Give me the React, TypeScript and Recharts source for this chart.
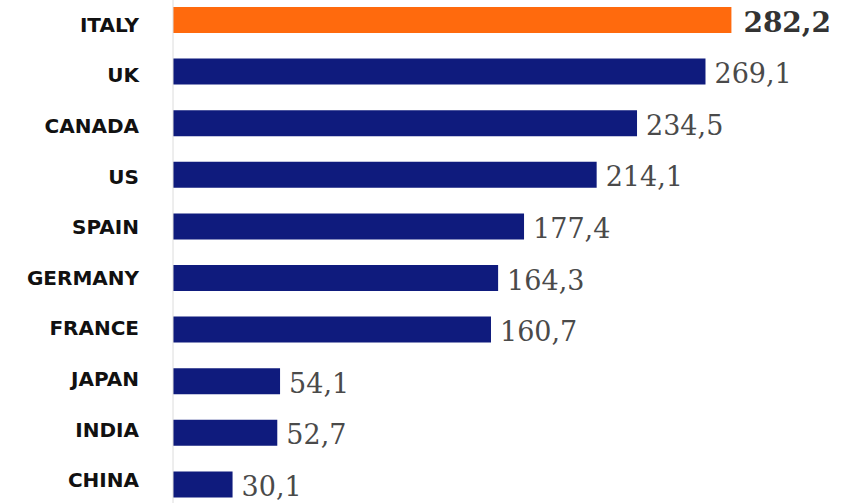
import React from 'react';
import { BarChart, Bar, XAxis, YAxis, Cell, LabelList } from 'recharts';

const COUNTRIES = ['ITALY', 'UK', 'CANADA', 'US', 'SPAIN', 'GERMANY', 'FRANCE', 'JAPAN', 'INDIA', 'CHINA'];
const VALUES = [282.2, 269.1, 234.5, 214.1, 177.4, 164.3, 160.7, 54.1, 52.7, 30.1];
const HIGHLIGHT = 'ITALY';

const NAVY = '#0f1b7d';
const ORANGE = '#ff6a0d';

const data = COUNTRIES.map((name, i) => ({ name, value: VALUES[i] }));

const fmt = (v: number) => v.toFixed(1).replace('.', ',');

// category labels on the left; their spacing is a touch tighter than the bars
const CountryTick = (props: any) => {
  const { x, y, payload, index } = props;
  return (
    <text
      x={x}
      y={y}
      dy={5 - index}
      textAnchor="end"
      dominantBaseline="central"
      fontFamily="'DejaVu Sans', Verdana, sans-serif"
      fontWeight="bold"
      fontSize={20}
      fill="#111"
    >
      {payload.value}
    </text>
  );
};

const ValueLabel = (props: any) => {
  const { x, y, width, height, value, index } = props;
  const isHi = COUNTRIES[index] === HIGHLIGHT;
  return (
    <text
      x={x + width + (isHi ? 12 : 9)}
      y={y + height / 2}
      dy={2}
      dominantBaseline="central"
      fontFamily="'DejaVu Serif', Georgia, serif"
      fontWeight={isHi ? 'bold' : 'normal'}
      fontSize={isHi ? 28 : 27}
      fill={isHi ? '#333' : '#4a4a4a'}
    >
      {fmt(value)}
    </text>
  );
};

export default function App() {
  return (
    <div style={{ position: 'fixed', top: 0, left: 0, width: 848, height: 503, overflow: 'hidden', background: '#fff' }}>
      <div style={{ position: 'absolute', top: -6, left: 0 }}>
        <BarChart
          width={848}
          height={516}
          data={data}
          layout="vertical"
          margin={{ top: 0, right: 22, bottom: 0, left: 0 }}
        >
          <XAxis type="number" domain={[0, 330]} hide />
          <YAxis
            type="category"
            dataKey="name"
            width={173}
            axisLine={{ stroke: '#dcdcdc' }}
            tickLine={false}
            tickMargin={28}
            tick={<CountryTick />}
            interval={0}
          />
          <Bar dataKey="value" barSize={26} isAnimationActive={false}>
            {data.map((d) => (
              <Cell key={d.name} fill={d.name === HIGHLIGHT ? ORANGE : NAVY} />
            ))}
            <LabelList dataKey="value" content={<ValueLabel />} />
          </Bar>
        </BarChart>
      </div>
    </div>
  );
}
